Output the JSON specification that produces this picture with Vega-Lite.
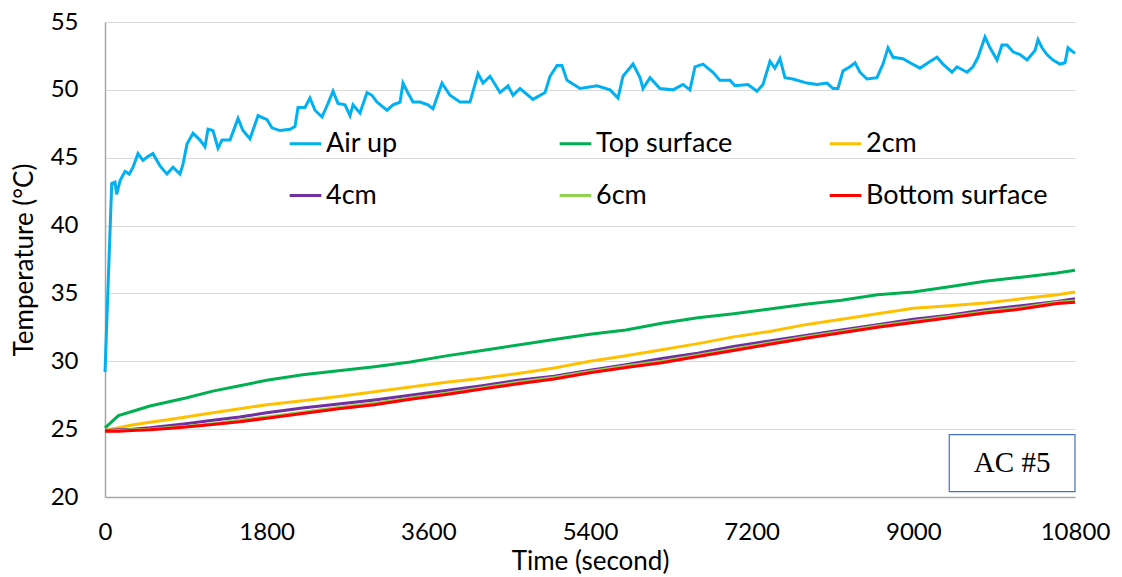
{
  "$schema": "https://vega.github.io/schema/vega-lite/v6.json",
  "autosize": "none",
  "width": 970,
  "height": 475,
  "padding": {"left": 105, "top": 22, "right": 47, "bottom": 80},
  "background": "white",
  "config": {
    "view": {"stroke": null},
    "font": "Lato",
    "axis": {"labelFont": "Lato", "titleFont": "Lato", "labelFontSize": 24, "titleFontSize": 26, "labelColor": "#000000", "titleColor": "#000000", "titleFontWeight": "normal", "ticks": false, "domainColor": "#A6A6A6", "domainWidth": 1.5, "gridColor": "#D9D9D9", "gridWidth": 1.2}
  },
  "datasets": {
    "temps": [
      {"series": "Air up", "t": 0, "v": 29.2},
      {"series": "Air up", "t": 75, "v": 43.1},
      {"series": "Air up", "t": 111, "v": 43.2},
      {"series": "Air up", "t": 130, "v": 42.3},
      {"series": "Air up", "t": 167, "v": 43.3},
      {"series": "Air up", "t": 223, "v": 44.0},
      {"series": "Air up", "t": 270, "v": 43.8},
      {"series": "Air up", "t": 312, "v": 44.3},
      {"series": "Air up", "t": 367, "v": 45.3},
      {"series": "Air up", "t": 423, "v": 44.8},
      {"series": "Air up", "t": 480, "v": 45.1},
      {"series": "Air up", "t": 534, "v": 45.3},
      {"series": "Air up", "t": 612, "v": 44.4},
      {"series": "Air up", "t": 690, "v": 43.8},
      {"series": "Air up", "t": 757, "v": 44.3},
      {"series": "Air up", "t": 835, "v": 43.8},
      {"series": "Air up", "t": 868, "v": 44.5},
      {"series": "Air up", "t": 913, "v": 46.0},
      {"series": "Air up", "t": 980, "v": 46.8},
      {"series": "Air up", "t": 1058, "v": 46.3},
      {"series": "Air up", "t": 1113, "v": 45.8},
      {"series": "Air up", "t": 1147, "v": 47.1},
      {"series": "Air up", "t": 1202, "v": 47.0},
      {"series": "Air up", "t": 1258, "v": 45.7},
      {"series": "Air up", "t": 1303, "v": 46.3},
      {"series": "Air up", "t": 1392, "v": 46.3},
      {"series": "Air up", "t": 1481, "v": 47.9},
      {"series": "Air up", "t": 1536, "v": 47.0},
      {"series": "Air up", "t": 1614, "v": 46.4},
      {"series": "Air up", "t": 1704, "v": 48.1},
      {"series": "Air up", "t": 1804, "v": 47.8},
      {"series": "Air up", "t": 1859, "v": 47.2},
      {"series": "Air up", "t": 1948, "v": 47.0},
      {"series": "Air up", "t": 2060, "v": 47.1},
      {"series": "Air up", "t": 2115, "v": 47.3},
      {"series": "Air up", "t": 2149, "v": 48.7},
      {"series": "Air up", "t": 2227, "v": 48.7},
      {"series": "Air up", "t": 2282, "v": 49.4},
      {"series": "Air up", "t": 2338, "v": 48.5},
      {"series": "Air up", "t": 2416, "v": 48.0},
      {"series": "Air up", "t": 2483, "v": 49.0},
      {"series": "Air up", "t": 2539, "v": 49.9},
      {"series": "Air up", "t": 2594, "v": 49.0},
      {"series": "Air up", "t": 2672, "v": 48.9},
      {"series": "Air up", "t": 2728, "v": 48.1},
      {"series": "Air up", "t": 2761, "v": 48.9},
      {"series": "Air up", "t": 2839, "v": 48.3},
      {"series": "Air up", "t": 2917, "v": 49.8},
      {"series": "Air up", "t": 2973, "v": 49.6},
      {"series": "Air up", "t": 3028, "v": 49.1},
      {"series": "Air up", "t": 3140, "v": 48.5},
      {"series": "Air up", "t": 3207, "v": 48.9},
      {"series": "Air up", "t": 3285, "v": 49.1},
      {"series": "Air up", "t": 3318, "v": 50.5},
      {"series": "Air up", "t": 3363, "v": 49.9},
      {"series": "Air up", "t": 3429, "v": 49.1},
      {"series": "Air up", "t": 3507, "v": 49.1},
      {"series": "Air up", "t": 3596, "v": 48.9},
      {"series": "Air up", "t": 3652, "v": 48.6},
      {"series": "Air up", "t": 3752, "v": 50.5},
      {"series": "Air up", "t": 3841, "v": 49.6},
      {"series": "Air up", "t": 3953, "v": 49.1},
      {"series": "Air up", "t": 4064, "v": 49.1},
      {"series": "Air up", "t": 4153, "v": 51.2},
      {"series": "Air up", "t": 4209, "v": 50.5},
      {"series": "Air up", "t": 4287, "v": 51.0},
      {"series": "Air up", "t": 4398, "v": 49.8},
      {"series": "Air up", "t": 4487, "v": 50.3},
      {"series": "Air up", "t": 4543, "v": 49.6},
      {"series": "Air up", "t": 4621, "v": 50.1},
      {"series": "Air up", "t": 4765, "v": 49.3},
      {"series": "Air up", "t": 4899, "v": 49.8},
      {"series": "Air up", "t": 4955, "v": 51.0},
      {"series": "Air up", "t": 5033, "v": 51.8},
      {"series": "Air up", "t": 5088, "v": 51.8},
      {"series": "Air up", "t": 5144, "v": 50.7},
      {"series": "Air up", "t": 5289, "v": 50.1},
      {"series": "Air up", "t": 5478, "v": 50.3},
      {"series": "Air up", "t": 5623, "v": 50.0},
      {"series": "Air up", "t": 5712, "v": 49.4},
      {"series": "Air up", "t": 5767, "v": 51.0},
      {"series": "Air up", "t": 5879, "v": 51.9},
      {"series": "Air up", "t": 5957, "v": 50.9},
      {"series": "Air up", "t": 5990, "v": 50.1},
      {"series": "Air up", "t": 6068, "v": 50.9},
      {"series": "Air up", "t": 6179, "v": 50.1},
      {"series": "Air up", "t": 6324, "v": 50.0},
      {"series": "Air up", "t": 6435, "v": 50.4},
      {"series": "Air up", "t": 6513, "v": 50.0},
      {"series": "Air up", "t": 6569, "v": 51.7},
      {"series": "Air up", "t": 6658, "v": 51.9},
      {"series": "Air up", "t": 6769, "v": 51.3},
      {"series": "Air up", "t": 6847, "v": 50.7},
      {"series": "Air up", "t": 6959, "v": 50.7},
      {"series": "Air up", "t": 7014, "v": 50.3},
      {"series": "Air up", "t": 7159, "v": 50.4},
      {"series": "Air up", "t": 7259, "v": 49.9},
      {"series": "Air up", "t": 7326, "v": 50.4},
      {"series": "Air up", "t": 7404, "v": 52.1},
      {"series": "Air up", "t": 7459, "v": 51.6},
      {"series": "Air up", "t": 7515, "v": 52.3},
      {"series": "Air up", "t": 7571, "v": 50.9},
      {"series": "Air up", "t": 7660, "v": 50.8},
      {"series": "Air up", "t": 7816, "v": 50.5},
      {"series": "Air up", "t": 7927, "v": 50.4},
      {"series": "Air up", "t": 8039, "v": 50.5},
      {"series": "Air up", "t": 8106, "v": 50.1},
      {"series": "Air up", "t": 8161, "v": 50.1},
      {"series": "Air up", "t": 8217, "v": 51.4},
      {"series": "Air up", "t": 8295, "v": 51.7},
      {"series": "Air up", "t": 8351, "v": 52.0},
      {"series": "Air up", "t": 8406, "v": 51.3},
      {"series": "Air up", "t": 8484, "v": 50.8},
      {"series": "Air up", "t": 8595, "v": 50.9},
      {"series": "Air up", "t": 8662, "v": 51.9},
      {"series": "Air up", "t": 8718, "v": 53.1},
      {"series": "Air up", "t": 8774, "v": 52.4},
      {"series": "Air up", "t": 8885, "v": 52.3},
      {"series": "Air up", "t": 8963, "v": 52.0},
      {"series": "Air up", "t": 9074, "v": 51.6},
      {"series": "Air up", "t": 9163, "v": 52.0},
      {"series": "Air up", "t": 9263, "v": 52.4},
      {"series": "Air up", "t": 9330, "v": 51.9},
      {"series": "Air up", "t": 9430, "v": 51.3},
      {"series": "Air up", "t": 9486, "v": 51.7},
      {"series": "Air up", "t": 9598, "v": 51.3},
      {"series": "Air up", "t": 9664, "v": 51.7},
      {"series": "Air up", "t": 9720, "v": 52.4},
      {"series": "Air up", "t": 9798, "v": 53.9},
      {"series": "Air up", "t": 9854, "v": 53.1},
      {"series": "Air up", "t": 9932, "v": 52.2},
      {"series": "Air up", "t": 9987, "v": 53.3},
      {"series": "Air up", "t": 10043, "v": 53.3},
      {"series": "Air up", "t": 10110, "v": 52.8},
      {"series": "Air up", "t": 10188, "v": 52.6},
      {"series": "Air up", "t": 10266, "v": 52.2},
      {"series": "Air up", "t": 10355, "v": 52.9},
      {"series": "Air up", "t": 10388, "v": 53.7},
      {"series": "Air up", "t": 10433, "v": 53.1},
      {"series": "Air up", "t": 10488, "v": 52.6},
      {"series": "Air up", "t": 10555, "v": 52.2},
      {"series": "Air up", "t": 10633, "v": 51.9},
      {"series": "Air up", "t": 10689, "v": 52.0},
      {"series": "Air up", "t": 10722, "v": 53.1},
      {"series": "Air up", "t": 10777, "v": 52.8},
      {"series": "Air up", "t": 10800, "v": 52.7},

      {"series": "Top surface", "t": 0, "v": 25.1},
      {"series": "Top surface", "t": 150, "v": 26.0},
      {"series": "Top surface", "t": 300, "v": 26.3},
      {"series": "Top surface", "t": 500, "v": 26.7},
      {"series": "Top surface", "t": 700, "v": 27.0},
      {"series": "Top surface", "t": 900, "v": 27.3},
      {"series": "Top surface", "t": 1200, "v": 27.8},
      {"series": "Top surface", "t": 1500, "v": 28.2},
      {"series": "Top surface", "t": 1800, "v": 28.6},
      {"series": "Top surface", "t": 2200, "v": 29.0},
      {"series": "Top surface", "t": 2600, "v": 29.3},
      {"series": "Top surface", "t": 3000, "v": 29.6},
      {"series": "Top surface", "t": 3400, "v": 29.95},
      {"series": "Top surface", "t": 3800, "v": 30.4},
      {"series": "Top surface", "t": 4200, "v": 30.8},
      {"series": "Top surface", "t": 4600, "v": 31.2},
      {"series": "Top surface", "t": 5000, "v": 31.6},
      {"series": "Top surface", "t": 5400, "v": 32.0},
      {"series": "Top surface", "t": 5800, "v": 32.3},
      {"series": "Top surface", "t": 6200, "v": 32.8},
      {"series": "Top surface", "t": 6600, "v": 33.2},
      {"series": "Top surface", "t": 7000, "v": 33.5},
      {"series": "Top surface", "t": 7400, "v": 33.85},
      {"series": "Top surface", "t": 7800, "v": 34.2},
      {"series": "Top surface", "t": 8200, "v": 34.5},
      {"series": "Top surface", "t": 8600, "v": 34.9},
      {"series": "Top surface", "t": 9000, "v": 35.1},
      {"series": "Top surface", "t": 9400, "v": 35.5},
      {"series": "Top surface", "t": 9800, "v": 35.9},
      {"series": "Top surface", "t": 10200, "v": 36.2},
      {"series": "Top surface", "t": 10600, "v": 36.5},
      {"series": "Top surface", "t": 10800, "v": 36.7},

      {"series": "2cm", "t": 0, "v": 24.9},
      {"series": "2cm", "t": 150, "v": 25.1},
      {"series": "2cm", "t": 300, "v": 25.3},
      {"series": "2cm", "t": 500, "v": 25.5},
      {"series": "2cm", "t": 700, "v": 25.7},
      {"series": "2cm", "t": 900, "v": 25.9},
      {"series": "2cm", "t": 1200, "v": 26.2},
      {"series": "2cm", "t": 1500, "v": 26.5},
      {"series": "2cm", "t": 1800, "v": 26.8},
      {"series": "2cm", "t": 2200, "v": 27.1},
      {"series": "2cm", "t": 2600, "v": 27.4},
      {"series": "2cm", "t": 3000, "v": 27.75},
      {"series": "2cm", "t": 3400, "v": 28.1},
      {"series": "2cm", "t": 3800, "v": 28.45},
      {"series": "2cm", "t": 4200, "v": 28.75},
      {"series": "2cm", "t": 4600, "v": 29.1},
      {"series": "2cm", "t": 5000, "v": 29.5},
      {"series": "2cm", "t": 5400, "v": 30.0},
      {"series": "2cm", "t": 5800, "v": 30.4},
      {"series": "2cm", "t": 6200, "v": 30.85},
      {"series": "2cm", "t": 6600, "v": 31.3},
      {"series": "2cm", "t": 7000, "v": 31.8},
      {"series": "2cm", "t": 7400, "v": 32.2},
      {"series": "2cm", "t": 7800, "v": 32.7},
      {"series": "2cm", "t": 8200, "v": 33.1},
      {"series": "2cm", "t": 8600, "v": 33.5},
      {"series": "2cm", "t": 9000, "v": 33.9},
      {"series": "2cm", "t": 9400, "v": 34.1},
      {"series": "2cm", "t": 9800, "v": 34.3},
      {"series": "2cm", "t": 10200, "v": 34.6},
      {"series": "2cm", "t": 10600, "v": 34.9},
      {"series": "2cm", "t": 10800, "v": 35.1},

      {"series": "4cm", "t": 0, "v": 24.9},
      {"series": "4cm", "t": 150, "v": 24.95},
      {"series": "4cm", "t": 300, "v": 25.0},
      {"series": "4cm", "t": 500, "v": 25.1},
      {"series": "4cm", "t": 700, "v": 25.25},
      {"series": "4cm", "t": 900, "v": 25.4},
      {"series": "4cm", "t": 1200, "v": 25.65},
      {"series": "4cm", "t": 1500, "v": 25.9},
      {"series": "4cm", "t": 1800, "v": 26.2},
      {"series": "4cm", "t": 2200, "v": 26.55},
      {"series": "4cm", "t": 2600, "v": 26.85},
      {"series": "4cm", "t": 3000, "v": 27.15},
      {"series": "4cm", "t": 3400, "v": 27.5},
      {"series": "4cm", "t": 3800, "v": 27.85},
      {"series": "4cm", "t": 4200, "v": 28.2},
      {"series": "4cm", "t": 4600, "v": 28.6},
      {"series": "4cm", "t": 5000, "v": 28.9},
      {"series": "4cm", "t": 5400, "v": 29.35},
      {"series": "4cm", "t": 5800, "v": 29.75},
      {"series": "4cm", "t": 6200, "v": 30.2},
      {"series": "4cm", "t": 6600, "v": 30.6},
      {"series": "4cm", "t": 7000, "v": 31.1},
      {"series": "4cm", "t": 7400, "v": 31.5},
      {"series": "4cm", "t": 7800, "v": 31.9},
      {"series": "4cm", "t": 8200, "v": 32.3},
      {"series": "4cm", "t": 8600, "v": 32.7},
      {"series": "4cm", "t": 9000, "v": 33.1},
      {"series": "4cm", "t": 9400, "v": 33.4},
      {"series": "4cm", "t": 9800, "v": 33.8},
      {"series": "4cm", "t": 10200, "v": 34.1},
      {"series": "4cm", "t": 10600, "v": 34.4},
      {"series": "4cm", "t": 10800, "v": 34.6},

      {"series": "6cm", "t": 0, "v": 24.85},
      {"series": "6cm", "t": 150, "v": 24.9},
      {"series": "6cm", "t": 300, "v": 24.95},
      {"series": "6cm", "t": 500, "v": 25.0},
      {"series": "6cm", "t": 700, "v": 25.1},
      {"series": "6cm", "t": 900, "v": 25.2},
      {"series": "6cm", "t": 1200, "v": 25.4},
      {"series": "6cm", "t": 1500, "v": 25.65},
      {"series": "6cm", "t": 1800, "v": 25.9},
      {"series": "6cm", "t": 2200, "v": 26.25},
      {"series": "6cm", "t": 2600, "v": 26.6},
      {"series": "6cm", "t": 3000, "v": 26.9},
      {"series": "6cm", "t": 3400, "v": 27.3},
      {"series": "6cm", "t": 3800, "v": 27.65},
      {"series": "6cm", "t": 4200, "v": 28.05},
      {"series": "6cm", "t": 4600, "v": 28.45},
      {"series": "6cm", "t": 5000, "v": 28.8},
      {"series": "6cm", "t": 5400, "v": 29.25},
      {"series": "6cm", "t": 5800, "v": 29.65},
      {"series": "6cm", "t": 6200, "v": 30.0},
      {"series": "6cm", "t": 6600, "v": 30.45},
      {"series": "6cm", "t": 7000, "v": 30.9},
      {"series": "6cm", "t": 7400, "v": 31.35},
      {"series": "6cm", "t": 7800, "v": 31.8},
      {"series": "6cm", "t": 8200, "v": 32.2},
      {"series": "6cm", "t": 8600, "v": 32.6},
      {"series": "6cm", "t": 9000, "v": 32.95},
      {"series": "6cm", "t": 9400, "v": 33.3},
      {"series": "6cm", "t": 9800, "v": 33.65},
      {"series": "6cm", "t": 10200, "v": 33.95},
      {"series": "6cm", "t": 10600, "v": 34.35},
      {"series": "6cm", "t": 10800, "v": 34.45},

      {"series": "Bottom surface", "t": 0, "v": 24.85},
      {"series": "Bottom surface", "t": 150, "v": 24.85},
      {"series": "Bottom surface", "t": 300, "v": 24.9},
      {"series": "Bottom surface", "t": 500, "v": 24.95},
      {"series": "Bottom surface", "t": 700, "v": 25.05},
      {"series": "Bottom surface", "t": 900, "v": 25.15},
      {"series": "Bottom surface", "t": 1200, "v": 25.35},
      {"series": "Bottom surface", "t": 1500, "v": 25.55},
      {"series": "Bottom surface", "t": 1800, "v": 25.8},
      {"series": "Bottom surface", "t": 2200, "v": 26.15},
      {"series": "Bottom surface", "t": 2600, "v": 26.5},
      {"series": "Bottom surface", "t": 3000, "v": 26.8},
      {"series": "Bottom surface", "t": 3400, "v": 27.2},
      {"series": "Bottom surface", "t": 3800, "v": 27.55},
      {"series": "Bottom surface", "t": 4200, "v": 27.95},
      {"series": "Bottom surface", "t": 4600, "v": 28.35},
      {"series": "Bottom surface", "t": 5000, "v": 28.7},
      {"series": "Bottom surface", "t": 5400, "v": 29.15},
      {"series": "Bottom surface", "t": 5800, "v": 29.55},
      {"series": "Bottom surface", "t": 6200, "v": 29.9},
      {"series": "Bottom surface", "t": 6600, "v": 30.35},
      {"series": "Bottom surface", "t": 7000, "v": 30.8},
      {"series": "Bottom surface", "t": 7400, "v": 31.25},
      {"series": "Bottom surface", "t": 7800, "v": 31.7},
      {"series": "Bottom surface", "t": 8200, "v": 32.1},
      {"series": "Bottom surface", "t": 8600, "v": 32.5},
      {"series": "Bottom surface", "t": 9000, "v": 32.85},
      {"series": "Bottom surface", "t": 9400, "v": 33.2},
      {"series": "Bottom surface", "t": 9800, "v": 33.55},
      {"series": "Bottom surface", "t": 10200, "v": 33.85},
      {"series": "Bottom surface", "t": 10600, "v": 34.25},
      {"series": "Bottom surface", "t": 10800, "v": 34.35}
    ],
    "box": [{"label": "AC #5", "x0": 9400, "x1": 10800, "y0": 24.6, "y1": 20.4, "tx": 10100, "ty": 22.5}]
  },
  "layer": [
    {
      "data": {"name": "temps"},
      "mark": {"type": "line", "strokeWidth": 3, "interpolate": "linear"},
      "encoding": {
        "x": {"field": "t", "type": "quantitative", "scale": {"domain": [0, 10800], "nice": false, "zero": false},
              "axis": {"title": "Time (second)", "format": "d", "values": [0, 1800, 3600, 5400, 7200, 9000, 10800], "grid": false, "labelPadding": 23, "titlePadding": 4, "labelFlush": false}},
        "y": {"field": "v", "type": "quantitative", "scale": {"domain": [20, 55], "nice": false, "zero": false},
              "axis": {"title": "Temperature (°C)", "format": "d", "values": [20, 25, 30, 35, 40, 45, 50, 55], "grid": true, "labelPadding": 27, "titlePadding": 13}},
        "color": {"field": "series", "type": "nominal",
                  "scale": {"domain": ["Air up", "Top surface", "2cm", "4cm", "6cm", "Bottom surface"], "range": ["#00B0F0", "#00B050", "#FFC000", "#7030A0", "#92D050", "#FF0000"]},
                  "legend": {"orient": "none", "legendX": 183, "legendY": 104, "direction": "horizontal", "columns": 3, "gridAlign": "all", "columnPadding": 45, "rowPadding": 21, "symbolType": "stroke", "symbolSize": 1000, "symbolStrokeWidth": 3, "labelFontSize": 27, "labelFont": "Lato", "labelColor": "#000000", "labelOffset": 3, "labelLimit": 400, "title": null, "padding": 0}}
      }
    },
    {
      "data": {"name": "box"},
      "mark": {"type": "rect", "fill": "white", "stroke": "#4472C4", "strokeWidth": 1.2},
      "encoding": {
        "x": {"field": "x0", "type": "quantitative"},
        "x2": {"field": "x1"},
        "y": {"field": "y0", "type": "quantitative"},
        "y2": {"field": "y1"}
      }
    },
    {
      "data": {"name": "box"},
      "mark": {"type": "text", "font": "Liberation Serif", "fontSize": 29, "color": "#000000", "align": "center", "baseline": "middle"},
      "encoding": {
        "x": {"field": "tx", "type": "quantitative"},
        "y": {"field": "ty", "type": "quantitative"},
        "text": {"field": "label"}
      }
    }
  ]
}
